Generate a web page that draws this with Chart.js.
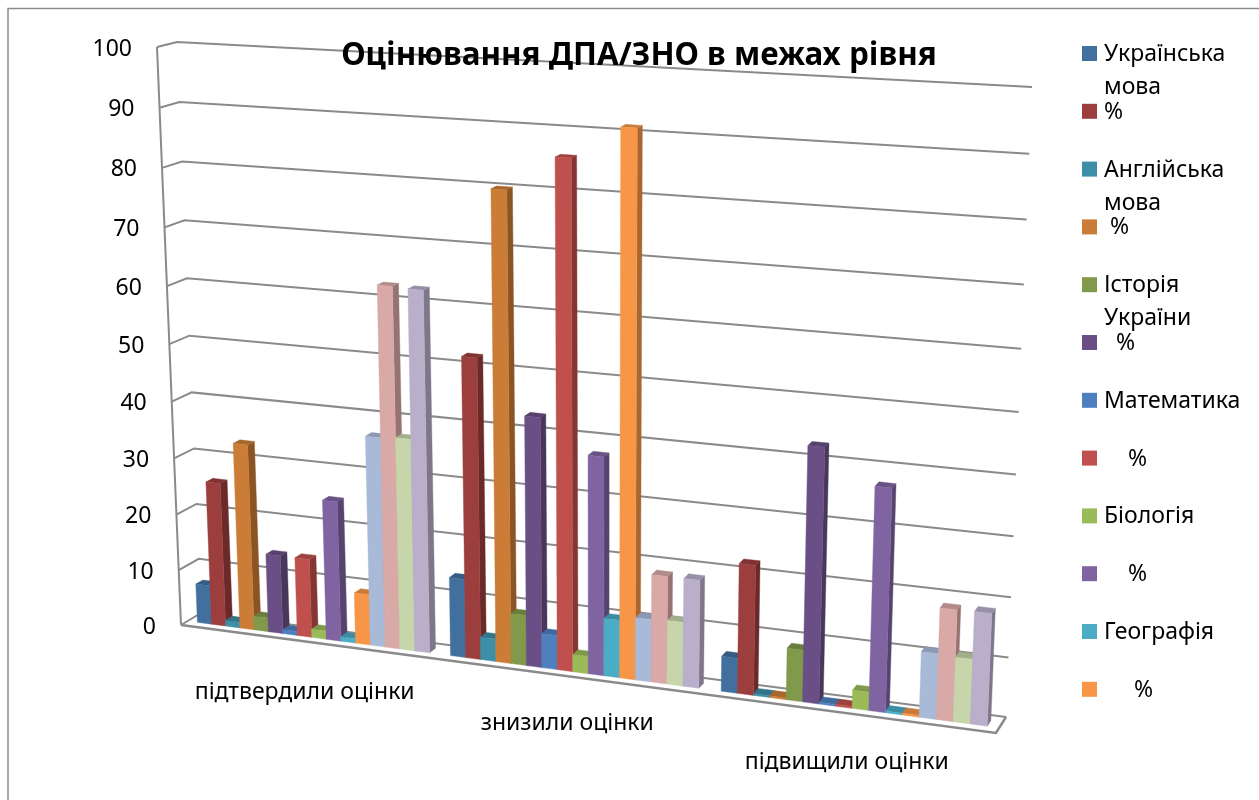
<!DOCTYPE html>
<html><head><meta charset="utf-8">
<style>html,body{margin:0;padding:0;background:#fff}canvas{display:block}</style>
<script src="https://cdn.jsdelivr.net/npm/chart.js@4/dist/chart.umd.js"></script>
</head><body><canvas id="c" width="1259" height="800"></canvas>
<script>
const categories = ["підтвердили оцінки","знизили оцінки","підвищили оцінки"];
const tickStep = 10, axisMax = 100;
const chartTitle = "Оцінювання ДПА/ЗНО в межах рівня";
const series01 = [7,13.8,6];
const series02 = [25.7,52,22.1];
const series03 = [1,4,0.3];
const series04 = [33.1,80,0.3];
const series05 = [2.5,8.8,8.8];
const series06 = [14,43,42.8];
const series07 = [0.7,6,0.3];
const series08 = [14,85.8,0.3];
const series09 = [1.5,3,3.1];
const series10 = [24.8,37.5,37.3];
const series11 = [0.8,10,0.3];
const series12 = [9,91.2,0.3];
const series13 = [36.8,10.8,11];
const series14 = [62.7,18.5,18.6];
const series15 = [37.1,11,10.8];
const series16 = [62.5,18.5,18.7];
const seriesValues = [series01,series02,series03,series04,series05,series06,series07,series08,series09,series10,series11,series12,series13,series14,series15,series16];
const seriesLabels = [["Українська","мова"],["%"],["Англійська","мова"],[" %"],["Історія","України"],["  %"],["Математика"],["    %"],["Біологія"],["    %"],["Географія"],["     %"],[""],[""],[""],[""]];
const seriesColors = ["#41709f","#9c3e3d","#3d8fa7","#cb7c36","#80994a","#6a4f86","#4e80bf","#c0504d","#9bbb59","#8064a2","#4bacc6","#f79646","#a9b9d8","#d9a9a8","#c6d6aa","#b9afcb"];

const FONT = '"Noto Sans"', GRID = '#8a8a8a';
// perspective box corners
const front = {p00:[181,625],p10:[996,733],p11:[1022,96],p01:[157,47]};
const back  = {p00:[201,613],p10:[1006,717],p11:[1032,87],p01:[177,42]};
const barZ0 = 0.33, barZ1 = 0.68;

function homography(q){
  const [x0,y0]=q.p00,[x1,y1]=q.p10,[x2,y2]=q.p11,[x3,y3]=q.p01;
  const dx1=x1-x2,dx2=x3-x2,sx=x0-x1+x2-x3,dy1=y1-y2,dy2=y3-y2,sy=y0-y1+y2-y3;
  const d=dx1*dy2-dx2*dy1, g=(sx*dy2-dx2*sy)/d, h=(dx1*sy-sx*dy1)/d;
  const a=x1-x0+g*x1,b=x3-x0+h*x3,c=x0,e=y1-y0+g*y1,f=y3-y0+h*y3,k=y0;
  return (u,v)=>{const w=g*u+h*v+1;return [(a*u+b*v+c)/w,(e*u+f*v+k)/w];};
}
const hFront=homography(front), hBack=homography(back);
function project(u,v,z){
  const a=hFront(u,v), b=hBack(u,v);
  return [a[0]+(b[0]-a[0])*z, a[1]+(b[1]-a[1])*z];
}
let area=null;
function P(px,py,z){
  return project((px-area.left)/(area.right-area.left),(area.bottom-py)/(area.bottom-area.top),z);
}
function shade(hex,f){
  const n=parseInt(hex.slice(1),16);
  return 'rgb('+[(n>>16)&255,(n>>8)&255,n&255].map(c=>Math.round(c*f)).join(',')+')';
}
function poly(ctx,pts,fill){
  ctx.beginPath();pts.forEach((p,i)=>i?ctx.lineTo(p[0],p[1]):ctx.moveTo(p[0],p[1]));ctx.closePath();
  ctx.fillStyle=fill;ctx.fill();ctx.strokeStyle=fill;ctx.lineWidth=0.4;ctx.stroke();
}
// bars keep the library's geometry; only their painting goes through the perspective
const BarEl = Chart.registry.getElement('bar');
BarEl.prototype.draw = function(ctx){
  const {x,y,base,width,options}=this.getProps(['x','y','base','width','options']);
  const o=options||this.options, col=o.backgroundColor, l=x-width/2, r=x+width/2;
  poly(ctx,[P(r,y,barZ0),P(r,base,barZ0),P(r,base,barZ1),P(r,y,barZ1)],shade(col,0.68));
  poly(ctx,[P(l,y,barZ0),P(r,y,barZ0),P(r,y,barZ1),P(l,y,barZ1)],shade(col,0.82));
  poly(ctx,[P(l,y,barZ0),P(r,y,barZ0),P(r,base,barZ0),P(l,base,barZ0)],col);
};
function line(ctx,pts,w,c){
  ctx.beginPath();pts.forEach((p,i)=>i?ctx.lineTo(p[0],p[1]):ctx.moveTo(p[0],p[1]));
  ctx.lineWidth=w;ctx.strokeStyle=c||GRID;ctx.lineJoin='miter';ctx.stroke();
}
const catLabelDX=[-1,-0.5,-1.5], catLabelDY=[51,47,49];
const room3D={
  id:'room3D',
  beforeDraw(chart){
    const ctx=chart.ctx, ys=chart.scales.y, xs=chart.scales.x;
    area=chart.chartArea;
    ctx.save();
    ctx.fillStyle='#fff';ctx.fillRect(0,0,chart.width,chart.height);
    // outer frame
    line(ctx,[[8,800],[8,8.5],[1259,8.5]],1.5,'#8c8c8c');
    // grid on walls
    ys.ticks.forEach(t=>{
      const py=ys.getPixelForValue(t.value);
      line(ctx,[P(area.left,py,0),P(area.left,py,1),P(area.right,py,1)],2);
    });
    // left axis and floor
    line(ctx,[P(area.left,ys.getPixelForValue(axisMax),0),P(area.left,ys.getPixelForValue(0),0)],2);
    const b=ys.getPixelForValue(0);
    line(ctx,[P(area.left,b,0),P(area.right,b,0),P(area.right,b,1)],2.5);
    // tick labels
    ctx.fillStyle='#000';ctx.textBaseline='middle';ctx.textAlign='right';
    ctx.font='23px '+FONT;
    ys.ticks.forEach(t=>{
      const p=P(area.left,ys.getPixelForValue(t.value),0);
      ctx.fillText(String(t.value),p[0]-25,p[1]+2);
    });
    // category labels
    ctx.textAlign='center';ctx.font='23px '+FONT;
    categories.forEach((c,i)=>{
      const p=P(xs.getPixelForValue(i),b,0);
      ctx.fillText(c,p[0]+catLabelDX[i],p[1]+catLabelDY[i]);
    });
    // legend
    ctx.textAlign='left';ctx.font='23px '+FONT;
    seriesLabels.forEach((lines,i)=>{
      if(!lines[0]) return;
      const cy=53.5+57.8*i;
      ctx.fillStyle=seriesColors[i];ctx.fillRect(1082,cy-7.5,15,15);
      ctx.fillStyle='#000';
      lines.forEach((t,j)=>ctx.fillText(t,1104,cy+1+j*33));
    });
    ctx.restore();
  },
  // paint left to right so each bar covers its left neighbour's side face
  beforeDatasetsDraw(chart){
    area=chart.chartArea;
    chart.data.datasets.forEach((d,i)=>chart.getDatasetMeta(i).controller.draw());
  },
  beforeDatasetDraw(){ return false; }
};
new Chart(document.getElementById('c'),{
  type:'bar',
  data:{labels:categories,datasets:seriesValues.map((d,i)=>({
    label:seriesLabels[i].join(' ').trim(),data:d,backgroundColor:seriesColors[i],
    barPercentage:1,categoryPercentage:0.92}))},
  options:{
    responsive:false,animation:false,devicePixelRatio:1,
    layout:{padding:{left:19}},
    plugins:{
      legend:{display:false},tooltip:{enabled:false},
      title:{display:true,text:chartTitle,color:'#000',align:'center',
        font:{family:FONT,size:31.4,weight:'bold'},padding:{top:37,bottom:10}}
    },
    scales:{
      x:{display:false},
      y:{display:false,min:0,max:axisMax,ticks:{stepSize:tickStep}}
    }
  },
  plugins:[room3D]
});
</script></body></html>
